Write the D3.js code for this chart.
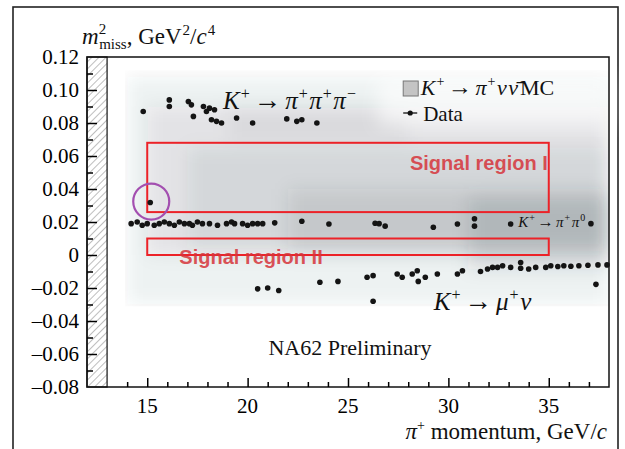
<!DOCTYPE html>
<html>
<head>
<meta charset="utf-8">
<script src="https://d3js.org/d3.v7.min.js"></script>
<style>
  html, body { margin: 0; padding: 0; background: #fff; }
  svg { display: block; font-family: "Liberation Serif", "DejaVu Serif", serif; }
  .ax .domain { display: none; }
  .ax line { stroke: #000; stroke-width: 1.5; }
</style>
</head>
<body>
<svg id="chart" width="625" height="449"></svg>
<script>
// axis ticks
const xTicks = [15, 20, 25, 30, 35];
const yTicks = [0.12, 0.10, 0.08, 0.06, 0.04, 0.02, 0, -0.02, -0.04, -0.06, -0.08];

// signal regions [p from, p to, m2 low, m2 high]
const regions = [
  {name: "Signal region I", p0: 15, p1: 35, m0: 0.026, m1: 0.068},
  {name: "Signal region II", p0: 15, p1: 35, m0: 0.0, m1: 0.010}
];

// MC density blobs (momentum range, m2 range, relative density)
const mcBlobs = [
  {p0: 14.0, p1: 38, m0: -0.030, m1: 0.108, d: 0.07},
  {p0: 15.0, p1: 38, m0: 0.000, m1: 0.090, d: 0.07},
  {p0: 19.0, p1: 28, m0: 0.070, m1: 0.088, d: 0.05},
  {p0: 17.0, p1: 38, m0: 0.004, m1: 0.065, d: 0.08},
  {p0: 22.0, p1: 38, m0: 0.002, m1: 0.040, d: 0.10},
  {p0: 31.0, p1: 38, m0: -0.008, m1: 0.035, d: 0.12}
];

// data points: K+ -> pi+ pi+ pi-
const k3piP = [14.8, 16.1, 16.1, 17.05, 17.2, 17.3, 17.8, 17.95, 18.1, 18.35, 18.2, 18.45, 18.7, 19.45, 20.25, 21.95, 22.45, 22.7, 23.45];
const k3piM = [0.087, 0.094, 0.090, 0.093, 0.091, 0.084, 0.090, 0.087, 0.089, 0.088, 0.082, 0.081, 0.080, 0.083, 0.080, 0.0825, 0.081, 0.082, 0.080];

// K+ -> pi+ pi0
const k2piP = [14.2, 14.5, 14.75, 15.0, 15.35, 15.6, 15.85, 16.1, 16.35, 16.6, 16.85, 17.1, 17.25, 17.5, 17.75, 18.1, 18.5, 18.95, 19.2, 19.35, 19.75, 20.0, 20.25, 20.5, 20.75, 21.35, 22.7, 24.05, 26.35, 26.55, 26.85, 29.25, 30.45, 31.3, 31.3, 33.1, 37.1];
const k2piM = [0.019, 0.020, 0.018, 0.019, 0.018, 0.019, 0.020, 0.019, 0.018, 0.020, 0.019, 0.019, 0.018, 0.020, 0.019, 0.019, 0.018, 0.019, 0.020, 0.019, 0.019, 0.018, 0.019, 0.019, 0.019, 0.0195, 0.0205, 0.0188, 0.0192, 0.019, 0.0175, 0.0168, 0.0188, 0.022, 0.0175, 0.0188, 0.019];

// candidate inside the purple circle
const candP = [15.15];
const candM = [0.0318];

// K+ -> mu+ nu
const kmunuP = [20.5, 21.0, 21.55, 23.6, 24.5, 25.95, 26.25, 26.25, 27.45, 27.7, 28.2, 28.45, 28.5, 28.85, 29.45, 30.45, 30.7, 31.6, 31.95, 32.2, 32.45, 32.7, 33.1, 33.6, 33.6, 34.0, 34.35, 34.85, 35.1, 35.45, 35.75, 36.1, 36.5, 36.95, 37.35, 37.45, 37.9];
const kmunuM = [-0.0205, -0.020, -0.0215, -0.0165, -0.016, -0.0135, -0.0125, -0.028, -0.0115, -0.0135, -0.0115, -0.0095, -0.016, -0.0135, -0.0115, -0.0115, -0.0095, -0.010, -0.0085, -0.0075, -0.0075, -0.0065, -0.0075, -0.0045, -0.008, -0.0085, -0.0075, -0.0075, -0.0065, -0.007, -0.0065, -0.0068, -0.0065, -0.0062, -0.0178, -0.006, -0.006];

const svg = d3.select("#chart");
const margin = {top: 57, right: 16, bottom: 62, left: 87};
const W = +svg.attr("width"), H = +svg.attr("height");

const x = d3.scaleLinear().domain([12, 38]).range([margin.left, W - margin.right]);
const y = d3.scaleLinear().domain([-0.08, 0.12]).range([H - margin.bottom, margin.top]);

const defs = svg.append("defs");
const hatch = defs.append("pattern")
  .attr("id", "hatch").attr("patternUnits", "userSpaceOnUse")
  .attr("width", 5).attr("height", 5)
  .attr("patternTransform", "rotate(45)");
hatch.append("line").attr("x1", 0).attr("y1", 0).attr("x2", 0).attr("y2", 5)
  .attr("stroke", "#444").attr("stroke-width", 0.7);
defs.append("filter").attr("id", "blur")
  .attr("x", "-20%").attr("y", "-20%").attr("width", "140%").attr("height", "140%")
  .append("feGaussianBlur").attr("stdDeviation", 9);
defs.append("clipPath").attr("id", "mcclip").append("rect")
  .attr("x", x(13.9)).attr("y", y(0.112)).attr("width", x(38) - x(13.9)).attr("height", y(-0.031) - y(0.112));

// outer frame
svg.append("rect").attr("x", 13).attr("y", 7).attr("width", 605).attr("height", 460)
  .attr("fill", "none").attr("stroke", "#222").attr("stroke-width", 1.6);

// MC shading
svg.append("g").attr("clip-path", "url(#mcclip)")
  .append("g").attr("filter", "url(#blur)")
  .selectAll("rect").data(mcBlobs).join("rect")
  .attr("x", d => x(d.p0)).attr("y", d => y(d.m1))
  .attr("width", d => x(d.p1) - x(d.p0)).attr("height", d => y(d.m0) - y(d.m1))
  .attr("fill", "#303a40").attr("fill-opacity", d => d.d);

// legend background area stays lighter
svg.append("rect").attr("x", x(26.5)).attr("y", y(0.108)).attr("width", x(38) - x(26.5)).attr("height", y(0.078) - y(0.108))
  .attr("fill", "#fff").attr("fill-opacity", 0.6).attr("filter", "url(#blur)");

// hatched band
svg.append("rect").attr("x", x(12)).attr("y", y(0.12)).attr("width", x(13) - x(12)).attr("height", y(-0.08) - y(0.12))
  .attr("fill", "url(#hatch)").attr("stroke", "#111").attr("stroke-width", 1.2);

// plot box
svg.append("rect").attr("x", x(12)).attr("y", y(0.12)).attr("width", x(38) - x(12)).attr("height", y(-0.08) - y(0.12))
  .attr("fill", "none").attr("stroke", "#111").attr("stroke-width", 1.5);

// x ticks (pointing up into the plot)
const xMinor = d3.range(14, 38).filter(d => d % 5 !== 0);
svg.append("g").attr("class", "ax").attr("transform", `translate(0,${y(-0.08)})`)
  .call(d3.axisTop(x).tickValues(xMinor).tickSize(5).tickFormat(""));
svg.append("g").attr("class", "ax").attr("transform", `translate(0,${y(-0.08)})`)
  .call(d3.axisTop(x).tickValues(xTicks).tickSize(9).tickFormat(""));
svg.append("g").selectAll("text").data(xTicks).join("text")
  .attr("x", d => x(d)).attr("y", y(-0.08) + 26)
  .attr("text-anchor", "middle").attr("font-size", 21).text(d => d);

// y ticks (pointing right into the hatched band)
const yMinor = d3.range(-7, 12, 2).map(i => i / 100);
svg.append("g").attr("class", "ax").attr("transform", `translate(${x(12)},0)`)
  .call(d3.axisRight(y).tickValues(yMinor).tickSize(6).tickFormat(""));
svg.append("g").attr("class", "ax").attr("transform", `translate(${x(12)},0)`)
  .call(d3.axisRight(y).tickValues(yTicks.slice(1, -1)).tickSize(10).tickFormat(""));
svg.append("g").selectAll("text").data(yTicks).join("text")
  .attr("x", x(12) - 8).attr("y", d => y(d) + 7)
  .attr("text-anchor", "end").attr("font-size", 21)
  .text(d => d === 0 ? "0" : (d < 0 ? "\u2013" : "") + Math.abs(d).toFixed(2));

// signal regions
svg.append("g").selectAll("rect").data(regions).join("rect")
  .attr("x", d => x(d.p0)).attr("y", d => y(d.m1))
  .attr("width", d => x(d.p1) - x(d.p0)).attr("height", d => y(d.m0) - y(d.m1))
  .attr("fill", "none").attr("stroke", "#ec2228").attr("stroke-width", 2);
const regLabel = svg.append("g").attr("font-family", "Liberation Sans, Arial, sans-serif")
  .attr("font-weight", "bold").attr("font-size", 20).attr("fill", "#d6343a").attr("fill-opacity", 0.85);
regLabel.append("text").attr("x", x(35) - 1).attr("y", y(0.0515)).attr("text-anchor", "end").text(regions[0].name);
regLabel.append("text").attr("x", x(16.6)).attr("y", y(-0.0055)).text(regions[1].name);

// data points
const pts = svg.append("g").attr("fill", "#141414");
function drawPts(ps, ms) {
  pts.selectAll(null).data(ps.map((p, i) => [p, ms[i]])).join("circle")
    .attr("cx", d => x(d[0])).attr("cy", d => y(d[1])).attr("r", 2.8);
}
drawPts(k3piP, k3piM);
drawPts(k2piP, k2piM);
drawPts(kmunuP, kmunuM);
drawPts(candP, candM);

// purple circle around candidate
svg.append("circle").attr("cx", x(candP[0]) + 1).attr("cy", y(candM[0]) - 1).attr("r", 18)
  .attr("fill", "none").attr("stroke", "#a34fb0").attr("stroke-width", 2.2);

// math-like labels: parts are [text, kind], kind "i" italic, "s" superscript, "a" arrow, "ia" italic after arrow, "n" normal
function mathText(g, px, py, size, parts) {
  const t = g.append("text").attr("x", px).attr("y", py).attr("font-size", size);
  const sup = Math.round(size * 0.65), up = Math.round(size * 0.4);
  let raised = false;
  parts.forEach(([s, k]) => {
    const sp = t.append("tspan").text(s);
    if (k === "s") {
      sp.attr("font-size", sup).attr("dy", raised ? 0 : -up).attr("dx", 1);
      raised = true;
    } else {
      if (raised) sp.attr("dy", up);
      raised = false;
      if (k === "i") sp.attr("font-style", "italic").attr("dx", 1.5);
      if (k === "a") sp.attr("dx", size * 0.16).attr("font-size", size * 1.1);
      if (k === "ia") sp.attr("font-style", "italic").attr("dx", size * 0.16);
      if (k === "n") sp.attr("dx", 2);
    }
  });
  return t;
}

const lab = svg.append("g").attr("fill", "#111");
mathText(lab, x(18.7), y(0.0885), 25, [["K", "i"], ["+", "s"], ["\u2192", "a"], ["\u03c0", "ia"], ["+", "s"], ["\u03c0", "i"], ["+", "s"], ["\u03c0", "i"], ["\u2212", "s"]]);
mathText(lab, x(33.4), y(0.0168), 15, [["K", "i"], ["+", "s"], ["\u2192", "a"], ["\u03c0", "ia"], ["+", "s"], ["\u03c0", "i"], ["0", "s"]]);
mathText(lab, x(29.2), y(-0.0335), 25, [["K", "i"], ["+", "s"], ["\u2192", "a"], ["\u03bc", "ia"], ["+", "s"], ["\u03bd", "i"]]);

lab.append("text").attr("x", x(25.1)).attr("y", y(-0.0605)).attr("text-anchor", "middle")
  .attr("font-size", 22).text("NA62 Preliminary");

// legend
const lgX = x(27.75), lgY = y(0.1);
svg.append("rect").attr("x", lgX).attr("y", lgY - 9).attr("width", 15).attr("height", 15)
  .attr("fill", "#c4c4c4").attr("stroke", "#777").attr("stroke-width", 1);
mathText(lab, lgX + 16, lgY + 5, 22, [["K", "i"], ["+", "s"], ["\u2192", "a"], ["\u03c0", "ia"], ["+", "s"], ["\u03bd", "i"], ["\u03bd\u0304", "i"], ["MC", "n"]]);
svg.append("line").attr("x1", lgX).attr("x2", lgX + 14).attr("y1", lgY + 23).attr("y2", lgY + 23)
  .attr("stroke", "#111").attr("stroke-width", 1.3);
svg.append("circle").attr("cx", lgX + 7).attr("cy", lgY + 23).attr("r", 2.6).attr("fill", "#111");
lab.append("text").attr("x", lgX + 20).attr("y", lgY + 31).attr("font-size", 21).text("Data");

// axis titles
const yt = lab.append("text").attr("x", 82).attr("y", 44).attr("font-size", 23);
yt.append("tspan").attr("font-style", "italic").text("m");
yt.append("tspan").attr("font-size", 15).attr("dy", -10).text("2");
yt.append("tspan").attr("font-size", 15).attr("dx", -7).attr("dy", 15).text("miss");
yt.append("tspan").attr("dy", -5).text(", GeV");
yt.append("tspan").attr("font-size", 15).attr("dy", -9).attr("dx", 1).text("2");
yt.append("tspan").attr("dy", 9).text("/");
yt.append("tspan").attr("font-style", "italic").text("c");
yt.append("tspan").attr("font-size", 15).attr("dy", -9).attr("dx", 1).text("4");

const xt = lab.append("text").attr("x", x(38) - 2).attr("y", 439).attr("text-anchor", "end").attr("font-size", 23);
xt.append("tspan").attr("font-style", "italic").text("\u03c0");
xt.append("tspan").attr("font-size", 14).attr("dy", -9).text("+");
xt.append("tspan").attr("dy", 9).text(" momentum, GeV/");
xt.append("tspan").attr("font-style", "italic").text("c");
</script>
</body>
</html>
